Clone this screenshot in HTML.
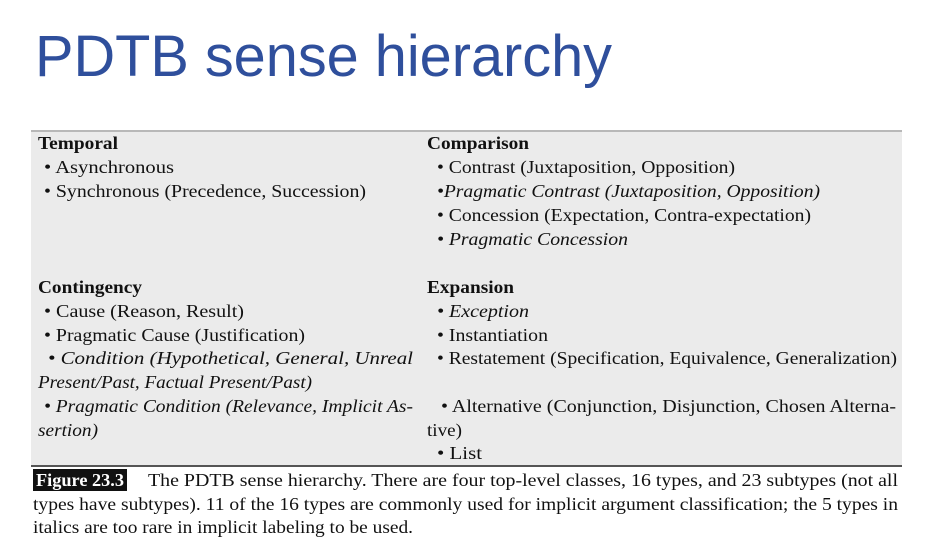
<!DOCTYPE html>
<html><head><meta charset="utf-8"><style>
html,body{margin:0;padding:0;background:#fff;}
svg{display:block;}
.t{font-family:"Liberation Serif",serif;font-size:18px;fill:#111;}
.b{font-weight:bold;}
.i{font-style:italic;}
</style></head><body>
<svg width="942" height="559" viewBox="0 0 942 559" xmlns="http://www.w3.org/2000/svg">
<rect width="942" height="559" fill="#fff"/>
<text x="35" y="76" font-family="Liberation Sans, sans-serif" font-size="58" fill="#2f4f9c" textLength="577" lengthAdjust="spacingAndGlyphs">PDTB sense hierarchy</text>
<rect x="31" y="131" width="871" height="335" fill="#ebebeb"/>
<rect x="31" y="130" width="871" height="2" fill="#b8b8b8"/>
<rect x="31" y="465" width="871" height="2" fill="#555"/>
<g class="t" lengthAdjust="spacingAndGlyphs">
<text class="t b" x="38" y="149" textLength="80" lengthAdjust="spacingAndGlyphs">Temporal</text>
<text class="t" x="44" y="173" textLength="130" lengthAdjust="spacingAndGlyphs">• Asynchronous</text>
<text class="t" x="44" y="197" textLength="322" lengthAdjust="spacingAndGlyphs">• Synchronous (Precedence, Succession)</text>
<text class="t b" x="38" y="293" textLength="104" lengthAdjust="spacingAndGlyphs">Contingency</text>
<text class="t" x="44" y="317" textLength="200" lengthAdjust="spacingAndGlyphs">• Cause (Reason, Result)</text>
<text class="t" x="44" y="341" textLength="261" lengthAdjust="spacingAndGlyphs">• Pragmatic Cause (Justification)</text>
<text class="t i" x="48" y="364" textLength="365" lengthAdjust="spacingAndGlyphs">• Condition (Hypothetical, General, Unreal</text>
<text class="t i" x="38" y="388" textLength="274" lengthAdjust="spacingAndGlyphs">Present/Past, Factual Present/Past)</text>
<text class="t i" x="44" y="412" textLength="369" lengthAdjust="spacingAndGlyphs">• Pragmatic Condition (Relevance, Implicit As-</text>
<text class="t i" x="38" y="436" textLength="60" lengthAdjust="spacingAndGlyphs">sertion)</text>

<text class="t b" x="427" y="149" textLength="102" lengthAdjust="spacingAndGlyphs">Comparison</text>
<text class="t" x="437" y="173" textLength="298" lengthAdjust="spacingAndGlyphs">• Contrast (Juxtaposition, Opposition)</text>
<text class="t i" x="437" y="197" textLength="383" lengthAdjust="spacingAndGlyphs">•Pragmatic Contrast (Juxtaposition, Opposition)</text>
<text class="t" x="437" y="221" textLength="374" lengthAdjust="spacingAndGlyphs">• Concession (Expectation, Contra-expectation)</text>
<text class="t i" x="437" y="245" textLength="191" lengthAdjust="spacingAndGlyphs">• Pragmatic Concession</text>
<text class="t b" x="427" y="293" textLength="87" lengthAdjust="spacingAndGlyphs">Expansion</text>
<text class="t i" x="437" y="317" textLength="92" lengthAdjust="spacingAndGlyphs">• Exception</text>
<text class="t" x="437" y="341" textLength="111" lengthAdjust="spacingAndGlyphs">• Instantiation</text>
<text class="t" x="437" y="364" textLength="460" lengthAdjust="spacingAndGlyphs">• Restatement (Specification, Equivalence, Generalization)</text>
<text class="t" x="441" y="412" textLength="455" lengthAdjust="spacingAndGlyphs">• Alternative (Conjunction, Disjunction, Chosen Alterna-</text>
<text class="t" x="427" y="436" textLength="35" lengthAdjust="spacingAndGlyphs">tive)</text>
<text class="t" x="437" y="459" textLength="45" lengthAdjust="spacingAndGlyphs">• List</text>
</g>
<rect x="33" y="469" width="94" height="22" fill="#111"/>
<text class="t b" x="36" y="486" fill="#fff" style="fill:#fff" textLength="88" lengthAdjust="spacingAndGlyphs">Figure 23.3</text>
<text class="t" x="148" y="486" textLength="750" lengthAdjust="spacingAndGlyphs">The PDTB sense hierarchy. There are four top-level classes, 16 types, and 23 subtypes (not all</text>
<text class="t" x="33" y="510" textLength="865" lengthAdjust="spacingAndGlyphs">types have subtypes). 11 of the 16 types are commonly used for implicit argument classification; the 5 types in</text>
<text class="t" x="33" y="533" textLength="380" lengthAdjust="spacingAndGlyphs">italics are too rare in implicit labeling to be used.</text>
</svg>
</body></html>
